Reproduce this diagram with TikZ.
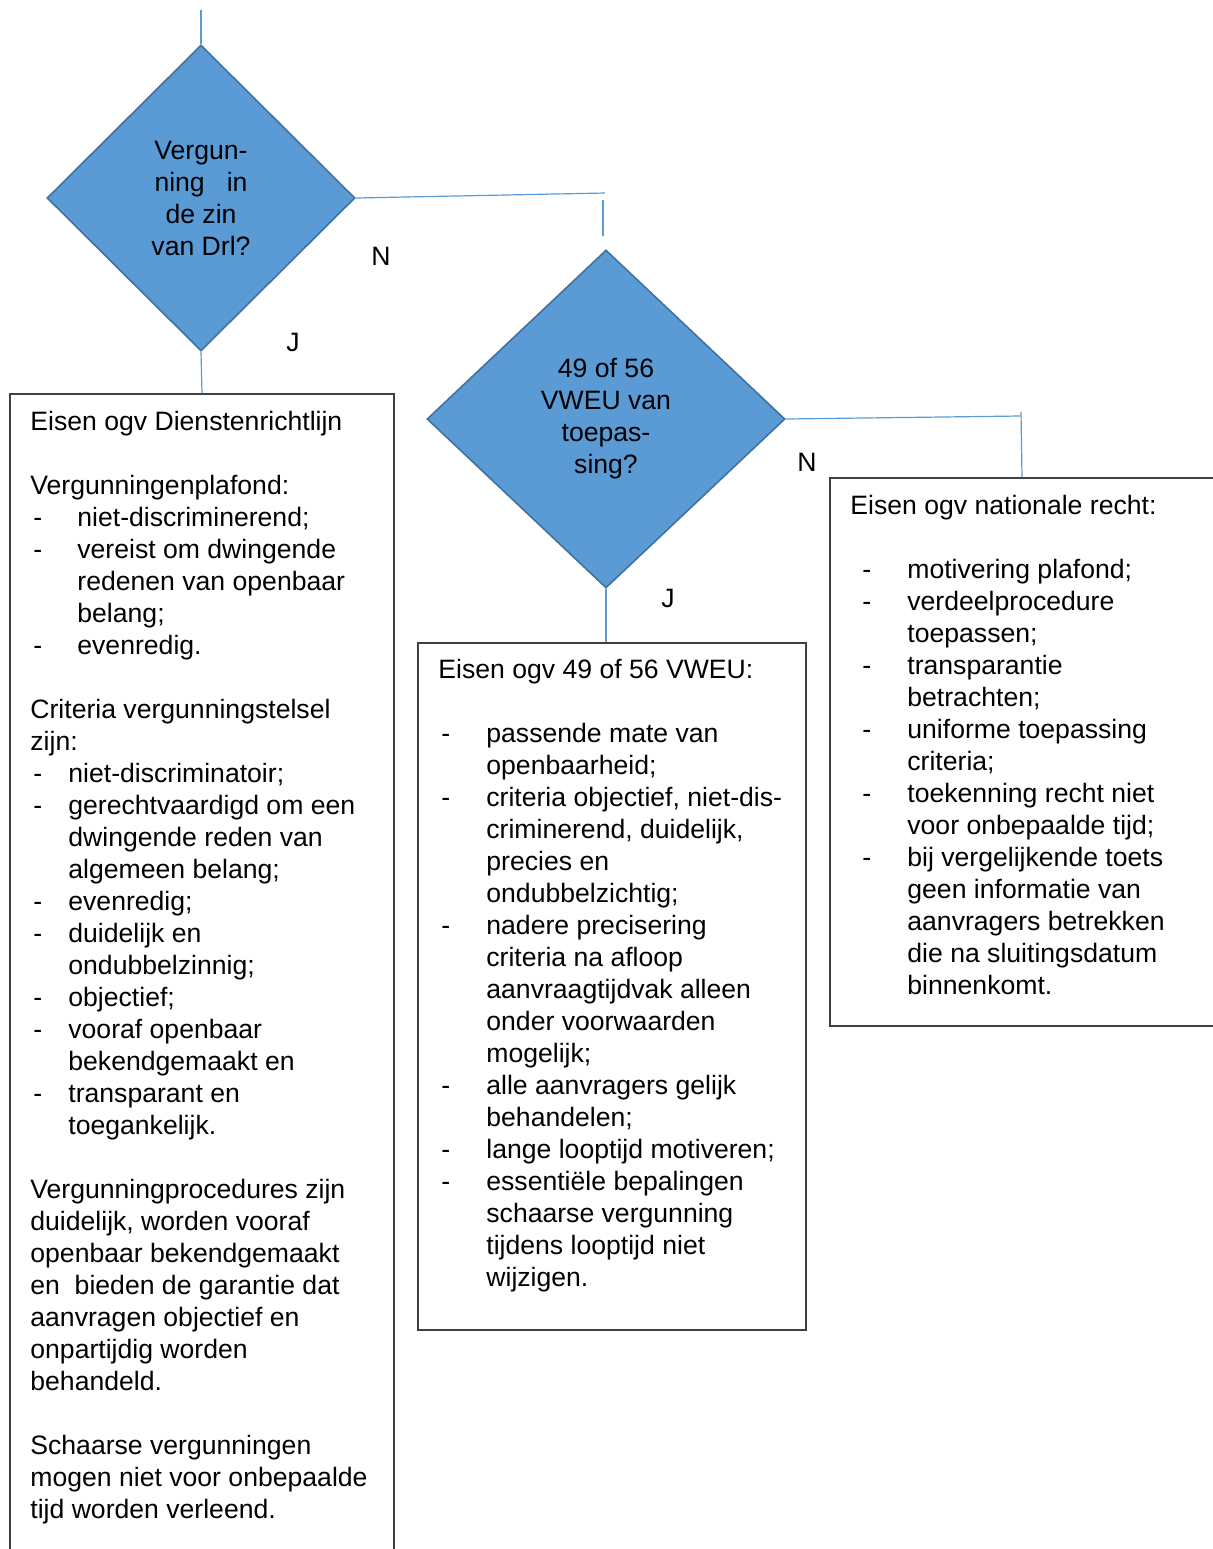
\documentclass[tikz,border=0pt]{standalone}
\usepackage{fontspec}
\setmainfont{Liberation Sans}
\usetikzlibrary{shapes.geometric,positioning}
\definecolor{qblue}{HTML}{5B9BD5}
\definecolor{qedge}{HTML}{41719C}
% dash item and continuation line
\newcommand{\itm}[3][1.5pt]{\makebox[#2][l]{\hspace{#1}-}#3}
\newcommand{\ind}[2]{\makebox[#1]{}#2}

\begin{document}
\begin{tikzpicture}[x=0.5pt,y=-0.5pt,font=\fontsize{13.3}{16}\selectfont,
  question/.style={diamond,fill=qblue,draw=qedge,line width=0.8pt,inner sep=0pt,align=center},
  reqbox/.style={rectangle,draw=black!75,line width=0.7pt,inner sep=0pt},
  reqtext/.style={inner sep=0pt,align=left,anchor=north west},
  link/.style={draw=qblue,line width=0.6pt}]
\clip (0,0) rectangle (1213,1549);

\node[question,minimum width=154pt,minimum height=153pt] (drl) at (201,198)
   {Vergun-\\ning\hspace{11pt}in\\de zin\\van Drl?};
\node[question,minimum width=179pt,minimum height=169pt] (vweu) at (606,419)
   {49 of 56\\VWEU van\\toepas-\\sing?};

\node[reqbox,minimum width=192pt,minimum height=583pt] (dir) at (202,977) {};
\node[reqbox,minimum width=194pt,minimum height=343.5pt] (eu) at (612,986.5) {};
\node[reqbox,minimum width=192pt,minimum height=274pt] (nat) at (1022,752) {};

\node[reqtext] (dirtxt) at (30,411) {Eisen ogv Dienstenrichtlijn\\[16pt]
Vergunningenplafond:\\
\itm{23.5pt}{niet-discriminerend;}\\
\itm{23.5pt}{vereist om dwingende}\\
\ind{23.5pt}{redenen van openbaar}\\
\ind{23.5pt}{belang;}\\
\itm{23.5pt}{evenredig.}\\[16pt]
Criteria vergunningstelsel\\
zijn:\\
\itm{19pt}{niet-discriminatoir;}\\
\itm{19pt}{gerechtvaardigd om een}\\
\ind{19pt}{dwingende reden van}\\
\ind{19pt}{algemeen belang;}\\
\itm{19pt}{evenredig;}\\
\itm{19pt}{duidelijk en}\\
\ind{19pt}{ondubbelzinnig;}\\
\itm{19pt}{objectief;}\\
\itm{19pt}{vooraf openbaar}\\
\ind{19pt}{bekendgemaakt en}\\
\itm{19pt}{transparant en}\\
\ind{19pt}{toegankelijk.}\\[16pt]
Vergunningprocedures zijn\\
duidelijk, worden vooraf\\
openbaar bekendgemaakt\\
en\ \ bieden de garantie dat\\
aanvragen objectief en\\
onpartijdig worden\\
behandeld.\\[16pt]
Schaarse vergunningen\\
mogen niet voor onbepaalde\\
tijd worden verleend.};

\node[reqtext] (eutxt) at (438,659) {Eisen ogv 49 of 56 VWEU:\\[16pt]
\itm{24pt}{passende mate van}\\
\ind{24pt}{openbaarheid;}\\
\itm{24pt}{criteria objectief, niet-dis-}\\
\ind{24pt}{criminerend, duidelijk,}\\
\ind{24pt}{precies en}\\
\ind{24pt}{ondubbelzichtig;}\\
\itm{24pt}{nadere precisering}\\
\ind{24pt}{criteria na afloop}\\
\ind{24pt}{aanvraagtijdvak alleen}\\
\ind{24pt}{onder voorwaarden}\\
\ind{24pt}{mogelijk;}\\
\itm{24pt}{alle aanvragers gelijk}\\
\ind{24pt}{behandelen;}\\
\itm{24pt}{lange looptijd motiveren;}\\
\itm{24pt}{essentiële bepalingen}\\
\ind{24pt}{schaarse vergunning}\\
\ind{24pt}{tijdens looptijd niet}\\
\ind{24pt}{wijzigen.}};

\node[reqtext] (nattxt) at (850,495) {Eisen ogv nationale recht:\\[16pt]
\itm[6pt]{28.5pt}{motivering plafond;}\\
\itm[6pt]{28.5pt}{verdeelprocedure}\\
\ind{28.5pt}{toepassen;}\\
\itm[6pt]{28.5pt}{transparantie}\\
\ind{28.5pt}{betrachten;}\\
\itm[6pt]{28.5pt}{uniforme toepassing}\\
\ind{28.5pt}{criteria;}\\
\itm[6pt]{28.5pt}{toekenning recht niet}\\
\ind{28.5pt}{voor onbepaalde tijd;}\\
\itm[6pt]{28.5pt}{bij vergelijkende toets}\\
\ind{28.5pt}{geen informatie van}\\
\ind{28.5pt}{aanvragers betrekken}\\
\ind{28.5pt}{die na sluitingsdatum}\\
\ind{28.5pt}{binnenkomt.}};

% connectors
\coordinate (entry) at (201,10);
\coordinate (bendA) at (605,193);
\coordinate (dropA) at (603,200);
\coordinate (dropAend) at (603,236);
\coordinate (bendB) at (1020,416);
\coordinate (dropB) at (1021,412);
\draw[link] (entry) -- (drl.north);
\draw[link] (drl.south) -- (dir.north);
\draw[link] (drl.east) -- (bendA);
\draw[link] (dropA) -- (dropAend);
\draw[link] (vweu.south) -- (vweu.south |- eu.north);
\draw[link] (vweu.east) -- (bendB);
\draw[link] (dropB) -- (nat.north);

\foreach \nm/\x/\y/\t in {noA/381/256/N,yesA/293/342/J,noB/807/462/N,yesB/668/598/J}
   \node (\nm) at (\x,\y) {\t};
\end{tikzpicture}
\end{document}
